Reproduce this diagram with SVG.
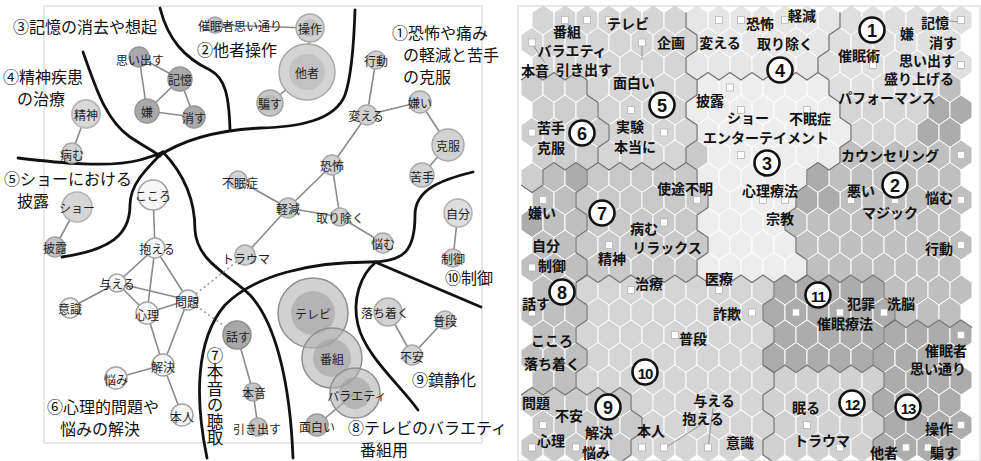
<svg xmlns="http://www.w3.org/2000/svg" xmlns:xlink="http://www.w3.org/1999/xlink" width="981" height="461" viewBox="0 0 981 461">
<style>
text{font-family:"Noto Sans CJK JP","Noto Sans CJK SC",sans-serif;fill:#111}
.nl{font-size:12px;text-anchor:middle;dominant-baseline:central;fill:#1e1e1e}
.rl{font-size:16px}
.vt{font-size:16.5px;writing-mode:vertical-rl}
.hl{font-size:14px;font-weight:bold;text-anchor:middle;dominant-baseline:central}
.num{font-family:"Liberation Sans",sans-serif;font-size:18px;font-weight:bold;text-anchor:middle;dominant-baseline:central}
.num2{font-family:"Liberation Sans",sans-serif;font-size:15px;font-weight:bold;text-anchor:middle;dominant-baseline:central;letter-spacing:-1px}
.cn{fill:#fff;stroke:#111;stroke-width:2.6}
.e{stroke:#8a8a8a;stroke-width:1.6;fill:none}
.dot{stroke:#999;stroke-width:1.6;stroke-dasharray:2 3;fill:none}
.sep{stroke:#111;stroke-width:2.8;fill:none;stroke-linecap:round}
.dk{fill:#a9a9a9;stroke:#959595;stroke-width:1.5}
.lt{fill:#d2d2d2;stroke:#a8a8a8;stroke-width:1.5}
.wh{fill:#f6f6f6;stroke:#a3a3a3;stroke-width:1.5}
.md{fill:#c4c4c4;stroke:#a0a0a0;stroke-width:1.5}
.big{fill:#b2b2b2;fill-opacity:.6;stroke:#8f8f8f;stroke-width:1.5}
.bin{fill:#9c9c9c;fill-opacity:.55}
.A{fill:#ededed}.H{fill:#e6e6e6}.B{fill:#dfdfdf}.C{fill:#d5d5d5}.P{fill:#cecece}.Q{fill:#d1d1d1}.D{fill:#c9c9c9}.E{fill:#bfbfbf}.F{fill:#acacac}
.sq{fill:#fff;stroke:#b5b5b5;stroke-width:.8}
.ld{stroke:#8a8a8a;stroke-width:.9}
.cb{fill:none;stroke:#707070;stroke-width:1.3;stroke-linejoin:round}
</style>
<defs>
<polygon id="h" points="0,-15 11,-7.5 11,7.5 0,15 -11,7.5 -11,-7.5" stroke="#fff" stroke-width="1"/>
<rect id="s" x="-3.5" y="-3.5" width="7" height="7"/>
</defs>
<rect width="981" height="461" fill="#fff"/>

<!-- LEFT PANEL -->
<rect x="44" y="6" width="438" height="437" fill="none" stroke="#cfcfcf" stroke-width="1"/>

<g id="separators">
<path class="sep" d="M160,8 C168,40 185,58 210,70 C225,78 229,95 230,130"/>
<path class="sep" d="M157,157 C185,138 220,130 260,128 C300,127 335,120 345,95 C352,75 354,40 355,10"/>
<path class="sep" d="M83,52 C95,85 105,120 130,137 C145,147 152,150 160,156"/>
<path class="sep" d="M18,158 C60,163 110,168 140,160 C150,157 157,155 163,152"/>
<path class="sep" d="M163,152 C145,170 130,185 130,205 C130,235 110,250 62,257"/>
<path class="sep" d="M163,152 C185,175 195,200 195,230 C197,262 230,275 250,295 C275,322 290,380 293,458"/>
<path class="sep" d="M207,458 C195,400 195,340 225,305 C255,275 310,262 370,262 C405,262 415,250 415,215 C415,190 440,180 473,172"/>
<path class="sep" d="M375,262 L481,307"/>
<path class="sep" d="M376,262 C360,275 352,300 358,325 C365,355 400,385 418,410"/>
</g>

<g id="connectors">
<line class="e" x1="139" y1="57" x2="180" y2="79"/>
<line class="e" x1="139" y1="57" x2="147" y2="111"/>
<line class="e" x1="180" y1="79" x2="147" y2="111"/>
<line class="e" x1="180" y1="79" x2="194" y2="117"/>
<line class="e" x1="147" y1="111" x2="194" y2="117"/>
<line class="e" x1="86" y1="114" x2="72" y2="153"/>
<line class="e" x1="215" y1="25" x2="310" y2="28"/>
<line class="e" x1="310" y1="28" x2="307" y2="72"/>
<line class="e" x1="307" y1="72" x2="270" y2="103"/>
<line class="e" x1="376" y1="60" x2="367" y2="115"/>
<line class="e" x1="367" y1="115" x2="420" y2="102"/>
<line class="e" x1="420" y1="102" x2="448" y2="145"/>
<line class="e" x1="448" y1="145" x2="422" y2="175"/>
<line class="e" x1="367" y1="115" x2="332" y2="165"/>
<line class="e" x1="332" y1="165" x2="288" y2="208"/>
<line class="e" x1="332" y1="165" x2="340" y2="217"/>
<line class="e" x1="288" y1="208" x2="340" y2="217"/>
<line class="e" x1="340" y1="217" x2="383" y2="243"/>
<line class="e" x1="288" y1="208" x2="238" y2="180"/>
<line class="e" x1="288" y1="208" x2="245" y2="255"/>
<line class="e" x1="77" y1="207" x2="55" y2="247"/>
<line class="e" x1="153" y1="195" x2="155" y2="248"/>
<line class="e" x1="155" y1="248" x2="117" y2="283"/>
<line class="e" x1="155" y1="248" x2="188" y2="300"/>
<line class="e" x1="155" y1="248" x2="147" y2="313"/>
<line class="e" x1="117" y1="283" x2="188" y2="300"/>
<line class="e" x1="117" y1="283" x2="70" y2="308"/>
<line class="e" x1="117" y1="283" x2="147" y2="313"/>
<line class="e" x1="147" y1="313" x2="188" y2="300"/>
<line class="e" x1="188" y1="300" x2="163" y2="365"/>
<line class="e" x1="147" y1="313" x2="163" y2="365"/>
<line class="e" x1="163" y1="365" x2="116" y2="378"/>
<line class="e" x1="163" y1="365" x2="182" y2="415"/>
<line class="dot" x1="188" y1="300" x2="245" y2="255"/>
<line class="dot" x1="188" y1="300" x2="237" y2="335"/>
<line class="e" x1="237" y1="335" x2="253" y2="392"/>
<line class="e" x1="253" y1="392" x2="258" y2="427"/>
<line class="e" x1="355" y1="393" x2="317" y2="425"/>
<line class="e" x1="388" y1="312" x2="412" y2="355"/>
<line class="e" x1="445" y1="320" x2="412" y2="355"/>
<line class="e" x1="458" y1="213" x2="453" y2="258"/>
</g>

<g id="n-omoidasu"><circle class="dk" cx="139" cy="57" r="10"/><text class="nl" x="140" y="59">思い出す</text></g>
<g id="n-kioku"><circle class="dk" cx="180" cy="79" r="12"/><text class="nl" x="180" y="79">記憶</text></g>
<g id="n-iya"><circle class="dk" cx="147" cy="111" r="12"/><text class="nl" x="147" y="111">嫌</text></g>
<g id="n-kesu"><circle class="dk" cx="194" cy="117" r="11"/><text class="nl" x="194" y="117">消す</text></g>
<g id="n-seishin"><circle cx="86" cy="114" r="14" fill="#d8d8d8" stroke="#b8b8b8" stroke-width="2"/><text class="nl" x="86" y="114">精神</text></g>
<g id="n-yamu"><circle class="lt" cx="72" cy="153" r="10"/><text class="nl" x="72" y="154">病む</text></g>
<g id="n-saiminsha"><circle class="md" cx="215" cy="25" r="8"/><text class="nl" x="240" y="25">催眠者思い通り</text></g>
<g id="n-sousa"><circle cx="310" cy="28" r="14" fill="#d3d3d3" stroke="#ababab" stroke-width="1.5"/><circle cx="310" cy="28" r="9" fill="#c0c0c0"/><text class="nl" x="310" y="28">操作</text></g>
<g id="n-tasha"><circle cx="307" cy="72" r="28" fill="#d4d4d4" stroke="#a8a8a8" stroke-width="1.5"/><circle cx="307" cy="72" r="18" fill="#c2c2c2"/><text class="nl" x="307" y="72">他者</text></g>
<g id="n-damasu"><circle cx="270" cy="103" r="13" fill="#c6c6c6" stroke="#a0a0a0" stroke-width="1.5"/><circle cx="270" cy="103" r="8" fill="#b8b8b8"/><text class="nl" x="270" y="103">騙す</text></g>
<g id="n-koudou"><circle class="lt" cx="376" cy="60" r="9"/><text class="nl" x="376" y="60">行動</text></g>
<g id="n-kaeru"><circle class="lt" cx="367" cy="115" r="10"/><text class="nl" x="366" y="115">変える</text></g>
<g id="n-kirai"><circle class="lt" cx="420" cy="102" r="11"/><text class="nl" x="420" y="102">嫌い</text></g>
<g id="n-kokufuku"><circle class="lt" cx="448" cy="145" r="16"/><text class="nl" x="448" y="145">克服</text></g>
<g id="n-nigate"><circle class="lt" cx="422" cy="175" r="12"/><text class="nl" x="422" y="176">苦手</text></g>
<g id="n-kyoufu"><circle class="lt" cx="332" cy="165" r="10"/><text class="nl" x="332" y="165">恐怖</text></g>
<g id="n-keigen"><circle class="lt" cx="288" cy="208" r="10"/><text class="nl" x="288" y="208">軽減</text></g>
<g id="n-torinozoku"><circle class="lt" cx="340" cy="217" r="9"/><text class="nl" x="340" y="217">取り除く</text></g>
<g id="n-nayamu"><circle class="lt" cx="383" cy="243" r="10"/><text class="nl" x="383" y="243">悩む</text></g>
<g id="n-fuminshou"><circle class="lt" cx="238" cy="180" r="9"/><text class="nl" x="240" y="182">不眠症</text></g>
<g id="n-trauma"><circle class="lt" cx="245" cy="255" r="10"/><text class="nl" x="246" y="258">トラウマ</text></g>
<g id="n-show"><circle cx="77" cy="207" r="15" fill="#d6d6d6" stroke="#b3b3b3" stroke-width="1.5"/><text class="nl" x="77" y="207">ショー</text></g>
<g id="n-hirou"><circle class="md" cx="55" cy="247" r="10"/><text class="nl" x="55" y="247">披露</text></g>
<g id="n-kokoro"><circle class="wh" cx="153" cy="195" r="15"/><text class="nl" x="153" y="195">こころ</text></g>
<g id="n-kakaeru"><circle class="wh" cx="155" cy="248" r="10"/><text class="nl" x="157" y="248">抱える</text></g>
<g id="n-ataeru"><circle class="wh" cx="117" cy="283" r="9"/><text class="nl" x="117" y="283">与える</text></g>
<g id="n-mondai"><circle class="wh" cx="188" cy="300" r="10"/><text class="nl" x="187" y="301">問題</text></g>
<g id="n-ishiki"><circle class="wh" cx="70" cy="308" r="10"/><text class="nl" x="70" y="308">意識</text></g>
<g id="n-shinri"><circle class="wh" cx="147" cy="313" r="11"/><text class="nl" x="147" y="314">心理</text></g>
<g id="n-kaiketsu"><circle class="wh" cx="163" cy="365" r="11"/><text class="nl" x="163" y="366">解決</text></g>
<g id="n-nayami"><circle class="wh" cx="116" cy="378" r="11"/><text class="nl" x="116" y="379">悩み</text></g>
<g id="n-honnin"><circle class="wh" cx="182" cy="415" r="11"/><text class="nl" x="182" y="416">本人</text></g>
<g id="n-hanasu"><circle cx="237" cy="335" r="14" fill="#a8a8a8" stroke="#8e8e8e" stroke-width="1.5"/><text class="nl" x="238" y="336">話す</text></g>
<g id="n-honne"><circle class="md" cx="253" cy="392" r="9"/><text class="nl" x="254" y="392">本音</text></g>
<g id="n-hikidasu"><circle class="md" cx="258" cy="427" r="9"/><text class="nl" x="257" y="428">引き出す</text></g>
<g id="n-tv"><circle class="big" cx="313" cy="313" r="35"/><circle class="bin" cx="313" cy="313" r="22"/><text class="nl" x="313" y="313">テレビ</text></g>
<g id="n-bangumi"><circle class="big" cx="332" cy="358" r="30"/><circle class="bin" cx="332" cy="358" r="19"/><text class="nl" x="332" y="358">番組</text></g>
<g id="n-variety"><circle class="big" cx="355" cy="393" r="25"/><circle class="bin" cx="355" cy="393" r="16"/><text class="nl" x="357" y="395">バラエティ</text></g>
<g id="n-omoshiroi"><circle cx="317" cy="425" r="11" fill="#b8b8b8" stroke="#9a9a9a" stroke-width="1.5"/><text class="nl" x="317" y="426">面白い</text></g>
<g id="n-ochitsuku"><circle class="lt" cx="388" cy="312" r="14"/><text class="nl" x="385" y="312">落ち着く</text></g>
<g id="n-fudan"><circle class="lt" cx="445" cy="320" r="9"/><text class="nl" x="445" y="320">普段</text></g>
<g id="n-fuan"><circle class="lt" cx="412" cy="355" r="10"/><text class="nl" x="412" y="356">不安</text></g>
<g id="n-jibun"><circle cx="458" cy="213" r="14" fill="#dedede" stroke="#b0b0b0" stroke-width="1.5"/><text class="nl" x="458" y="213">自分</text></g>
<g id="n-seigyo"><circle class="lt" cx="453" cy="258" r="9"/><text class="nl" x="453" y="258">制御</text></g>

<g id="region-labels">
<text class="rl" x="13" y="33">③記憶の消去や想起</text>
<text class="rl" x="197" y="56">②他者操作</text>
<text class="rl" x="3" y="83">④精神疾患</text>
<text class="rl" x="17" y="105">の治療</text>
<text class="rl" x="392" y="39">①恐怖や痛み</text>
<text class="rl" x="403" y="61">の軽減と苦手</text>
<text class="rl" x="403" y="83">の克服</text>
<text class="rl" x="4" y="185">⑤ショーにおける</text>
<text class="rl" x="17" y="207">披露</text>
<text class="rl" x="47" y="413">⑥心理的問題や</text>
<text class="rl" x="60" y="435">悩みの解決</text>
<text class="vt" x="215" y="347">⑦本音の聴取</text>
<text class="rl" x="348" y="434">⑧テレビのバラエティ</text>
<text class="rl" x="360" y="456">番組用</text>
<text class="rl" x="412" y="386">⑨鎮静化</text>
<text class="rl" x="445" y="284">⑩制御</text>
</g>

<!-- RIGHT PANEL -->
<g id="hexgrid">
<g transform="translate(0,20)"><g class="C"><use href="#h" x="543"/><use href="#h" x="565"/><use href="#h" x="587"/><use href="#h" x="609"/><use href="#h" x="631"/><use href="#h" x="653"/><use href="#h" x="675"/></g><g class="H"><use href="#h" x="697"/><use href="#h" x="719"/><use href="#h" x="741"/><use href="#h" x="763"/><use href="#h" x="785"/><use href="#h" x="807"/><use href="#h" x="829"/></g><g class="B"><use href="#h" x="851"/><use href="#h" x="873"/><use href="#h" x="895"/><use href="#h" x="917"/><use href="#h" x="939"/><use href="#h" x="961"/></g></g>
<g transform="translate(0,42.5)"><g class="C"><use href="#h" x="532"/><use href="#h" x="554"/><use href="#h" x="576"/><use href="#h" x="598"/><use href="#h" x="620"/><use href="#h" x="642"/><use href="#h" x="664"/><use href="#h" x="686"/></g><g class="H"><use href="#h" x="708"/><use href="#h" x="730"/><use href="#h" x="752"/><use href="#h" x="774"/><use href="#h" x="796"/><use href="#h" x="818"/></g><g class="B"><use href="#h" x="840"/><use href="#h" x="862"/><use href="#h" x="884"/><use href="#h" x="906"/><use href="#h" x="928"/><use href="#h" x="950"/></g></g>
<g transform="translate(0,65)"><g class="C"><use href="#h" x="543"/><use href="#h" x="565"/><use href="#h" x="587"/><use href="#h" x="609"/><use href="#h" x="631"/><use href="#h" x="653"/><use href="#h" x="675"/></g><g class="H"><use href="#h" x="697"/><use href="#h" x="719"/><use href="#h" x="741"/><use href="#h" x="763"/><use href="#h" x="785"/><use href="#h" x="807"/></g><g class="B"><use href="#h" x="829"/><use href="#h" x="851"/><use href="#h" x="873"/><use href="#h" x="895"/><use href="#h" x="917"/><use href="#h" x="939"/><use href="#h" x="961"/></g></g>
<g transform="translate(0,87.5)"><g class="P"><use href="#h" x="532"/><use href="#h" x="554"/><use href="#h" x="576"/></g><g class="C"><use href="#h" x="598"/><use href="#h" x="620"/><use href="#h" x="642"/><use href="#h" x="664"/><use href="#h" x="686"/></g><g class="A"><use href="#h" x="708"/><use href="#h" x="730"/><use href="#h" x="752"/><use href="#h" x="774"/><use href="#h" x="796"/><use href="#h" x="818"/></g><g class="B"><use href="#h" x="840"/><use href="#h" x="862"/><use href="#h" x="884"/><use href="#h" x="906"/><use href="#h" x="928"/></g><g class="E"><use href="#h" x="950"/></g></g>
<g transform="translate(0,110)"><g class="P"><use href="#h" x="543"/><use href="#h" x="565"/><use href="#h" x="587"/></g><g class="C"><use href="#h" x="609"/><use href="#h" x="631"/><use href="#h" x="653"/><use href="#h" x="675"/><use href="#h" x="851"/><use href="#h" x="873"/><use href="#h" x="895"/><use href="#h" x="917"/></g><g class="A"><use href="#h" x="697"/><use href="#h" x="719"/><use href="#h" x="741"/><use href="#h" x="763"/><use href="#h" x="785"/><use href="#h" x="807"/><use href="#h" x="829"/></g><g class="F"><use href="#h" x="939"/><use href="#h" x="961"/></g></g>
<g transform="translate(0,132.5)"><g class="P"><use href="#h" x="532"/><use href="#h" x="554"/><use href="#h" x="576"/><use href="#h" x="598"/></g><g class="C"><use href="#h" x="620"/><use href="#h" x="642"/><use href="#h" x="664"/><use href="#h" x="686"/><use href="#h" x="862"/><use href="#h" x="884"/><use href="#h" x="906"/></g><g class="A"><use href="#h" x="708"/><use href="#h" x="730"/><use href="#h" x="752"/><use href="#h" x="774"/><use href="#h" x="796"/><use href="#h" x="818"/><use href="#h" x="840"/></g><g class="F"><use href="#h" x="928"/><use href="#h" x="950"/></g></g>
<g transform="translate(0,155)"><g class="P"><use href="#h" x="543"/><use href="#h" x="565"/><use href="#h" x="587"/></g><g class="C"><use href="#h" x="609"/><use href="#h" x="631"/><use href="#h" x="653"/><use href="#h" x="675"/></g><g class="D"><use href="#h" x="697"/></g><g class="A"><use href="#h" x="719"/><use href="#h" x="741"/><use href="#h" x="763"/><use href="#h" x="785"/><use href="#h" x="807"/><use href="#h" x="829"/></g><g class="E"><use href="#h" x="851"/><use href="#h" x="873"/><use href="#h" x="895"/><use href="#h" x="917"/><use href="#h" x="939"/><use href="#h" x="961"/></g></g>
<g transform="translate(0,177.5)"><g class="P"><use href="#h" x="532"/></g><g class="E"><use href="#h" x="554"/><use href="#h" x="840"/><use href="#h" x="862"/><use href="#h" x="884"/><use href="#h" x="906"/><use href="#h" x="928"/><use href="#h" x="950"/></g><g class="F"><use href="#h" x="576"/><use href="#h" x="818"/></g><g class="D"><use href="#h" x="598"/><use href="#h" x="620"/><use href="#h" x="642"/><use href="#h" x="664"/><use href="#h" x="686"/></g><g class="A"><use href="#h" x="708"/><use href="#h" x="730"/><use href="#h" x="752"/><use href="#h" x="774"/><use href="#h" x="796"/></g></g>
<g transform="translate(0,200)"><g class="E"><use href="#h" x="543"/><use href="#h" x="565"/><use href="#h" x="851"/><use href="#h" x="873"/><use href="#h" x="895"/><use href="#h" x="917"/><use href="#h" x="939"/><use href="#h" x="961"/></g><g class="D"><use href="#h" x="587"/><use href="#h" x="609"/><use href="#h" x="631"/><use href="#h" x="653"/><use href="#h" x="675"/><use href="#h" x="697"/></g><g class="A"><use href="#h" x="719"/><use href="#h" x="741"/><use href="#h" x="763"/><use href="#h" x="785"/></g><g class="F"><use href="#h" x="807"/><use href="#h" x="829"/></g></g>
<g transform="translate(0,222.5)"><g class="F"><use href="#h" x="532"/></g><g class="E"><use href="#h" x="554"/><use href="#h" x="576"/><use href="#h" x="796"/><use href="#h" x="818"/><use href="#h" x="840"/><use href="#h" x="862"/><use href="#h" x="884"/><use href="#h" x="906"/><use href="#h" x="928"/><use href="#h" x="950"/></g><g class="D"><use href="#h" x="598"/><use href="#h" x="620"/><use href="#h" x="642"/><use href="#h" x="664"/><use href="#h" x="686"/></g><g class="A"><use href="#h" x="708"/><use href="#h" x="730"/><use href="#h" x="752"/><use href="#h" x="774"/></g></g>
<g transform="translate(0,245)"><g class="E"><use href="#h" x="543"/><use href="#h" x="565"/><use href="#h" x="807"/><use href="#h" x="829"/><use href="#h" x="851"/><use href="#h" x="873"/><use href="#h" x="895"/><use href="#h" x="917"/><use href="#h" x="939"/><use href="#h" x="961"/></g><g class="D"><use href="#h" x="587"/><use href="#h" x="609"/><use href="#h" x="631"/><use href="#h" x="653"/><use href="#h" x="675"/><use href="#h" x="697"/></g><g class="A"><use href="#h" x="719"/><use href="#h" x="741"/><use href="#h" x="763"/><use href="#h" x="785"/></g></g>
<g transform="translate(0,267.5)"><g class="E"><use href="#h" x="532"/><use href="#h" x="554"/><use href="#h" x="576"/><use href="#h" x="818"/><use href="#h" x="840"/><use href="#h" x="862"/><use href="#h" x="884"/><use href="#h" x="906"/><use href="#h" x="928"/><use href="#h" x="950"/></g><g class="D"><use href="#h" x="598"/><use href="#h" x="620"/><use href="#h" x="642"/><use href="#h" x="664"/><use href="#h" x="686"/></g><g class="A"><use href="#h" x="708"/><use href="#h" x="730"/><use href="#h" x="752"/><use href="#h" x="774"/><use href="#h" x="796"/></g></g>
<g transform="translate(0,290)"><g class="E"><use href="#h" x="543"/><use href="#h" x="565"/><use href="#h" x="895"/><use href="#h" x="917"/><use href="#h" x="939"/><use href="#h" x="961"/></g><g class="C"><use href="#h" x="587"/><use href="#h" x="609"/><use href="#h" x="631"/><use href="#h" x="653"/><use href="#h" x="675"/><use href="#h" x="697"/><use href="#h" x="719"/><use href="#h" x="741"/><use href="#h" x="763"/></g><g class="F"><use href="#h" x="785"/><use href="#h" x="807"/><use href="#h" x="829"/><use href="#h" x="851"/><use href="#h" x="873"/></g></g>
<g transform="translate(0,312.5)"><g class="E"><use href="#h" x="532"/><use href="#h" x="554"/><use href="#h" x="576"/><use href="#h" x="906"/><use href="#h" x="928"/><use href="#h" x="950"/></g><g class="C"><use href="#h" x="598"/><use href="#h" x="620"/><use href="#h" x="642"/><use href="#h" x="664"/><use href="#h" x="686"/><use href="#h" x="708"/><use href="#h" x="730"/><use href="#h" x="752"/></g><g class="F"><use href="#h" x="774"/><use href="#h" x="796"/><use href="#h" x="818"/><use href="#h" x="840"/><use href="#h" x="862"/><use href="#h" x="884"/></g></g>
<g transform="translate(0,335)"><g class="E"><use href="#h" x="543"/><use href="#h" x="565"/></g><g class="C"><use href="#h" x="587"/><use href="#h" x="609"/><use href="#h" x="631"/><use href="#h" x="653"/><use href="#h" x="675"/><use href="#h" x="697"/><use href="#h" x="719"/><use href="#h" x="741"/><use href="#h" x="763"/></g><g class="F"><use href="#h" x="785"/><use href="#h" x="807"/><use href="#h" x="829"/><use href="#h" x="851"/><use href="#h" x="873"/><use href="#h" x="895"/><use href="#h" x="917"/><use href="#h" x="939"/><use href="#h" x="961"/></g></g>
<g transform="translate(0,357.5)"><g class="E"><use href="#h" x="532"/><use href="#h" x="554"/><use href="#h" x="576"/></g><g class="C"><use href="#h" x="598"/><use href="#h" x="620"/><use href="#h" x="642"/><use href="#h" x="664"/><use href="#h" x="686"/><use href="#h" x="708"/><use href="#h" x="730"/><use href="#h" x="752"/></g><g class="F"><use href="#h" x="774"/><use href="#h" x="796"/><use href="#h" x="818"/><use href="#h" x="840"/><use href="#h" x="862"/><use href="#h" x="884"/><use href="#h" x="906"/><use href="#h" x="928"/><use href="#h" x="950"/></g></g>
<g transform="translate(0,380)"><g class="E"><use href="#h" x="543"/><use href="#h" x="565"/></g><g class="C"><use href="#h" x="587"/><use href="#h" x="609"/><use href="#h" x="631"/><use href="#h" x="653"/><use href="#h" x="675"/><use href="#h" x="697"/><use href="#h" x="719"/><use href="#h" x="741"/><use href="#h" x="763"/></g><g class="Q"><use href="#h" x="785"/><use href="#h" x="807"/><use href="#h" x="829"/><use href="#h" x="851"/><use href="#h" x="873"/></g><g class="F"><use href="#h" x="895"/><use href="#h" x="917"/><use href="#h" x="939"/><use href="#h" x="961"/></g></g>
<g transform="translate(0,402.5)"><g class="D"><use href="#h" x="532"/><use href="#h" x="554"/><use href="#h" x="576"/><use href="#h" x="598"/><use href="#h" x="620"/></g><g class="C"><use href="#h" x="642"/><use href="#h" x="664"/><use href="#h" x="686"/><use href="#h" x="708"/><use href="#h" x="730"/><use href="#h" x="752"/></g><g class="Q"><use href="#h" x="774"/><use href="#h" x="796"/><use href="#h" x="818"/><use href="#h" x="840"/><use href="#h" x="862"/></g><g class="F"><use href="#h" x="884"/><use href="#h" x="906"/><use href="#h" x="928"/><use href="#h" x="950"/></g></g>
<g transform="translate(0,425)"><g class="D"><use href="#h" x="543"/><use href="#h" x="565"/><use href="#h" x="587"/><use href="#h" x="609"/><use href="#h" x="631"/></g><g class="C"><use href="#h" x="653"/><use href="#h" x="675"/><use href="#h" x="697"/><use href="#h" x="719"/><use href="#h" x="741"/><use href="#h" x="763"/></g><g class="Q"><use href="#h" x="785"/><use href="#h" x="807"/><use href="#h" x="829"/><use href="#h" x="851"/><use href="#h" x="873"/></g><g class="F"><use href="#h" x="895"/><use href="#h" x="917"/><use href="#h" x="939"/><use href="#h" x="961"/></g></g>
<g transform="translate(0,447.5)"><g class="D"><use href="#h" x="532"/><use href="#h" x="554"/><use href="#h" x="576"/><use href="#h" x="598"/><use href="#h" x="620"/></g><g class="C"><use href="#h" x="642"/><use href="#h" x="664"/><use href="#h" x="686"/><use href="#h" x="708"/><use href="#h" x="730"/><use href="#h" x="752"/></g><g class="Q"><use href="#h" x="774"/><use href="#h" x="796"/><use href="#h" x="818"/><use href="#h" x="840"/><use href="#h" x="862"/></g><g class="F"><use href="#h" x="884"/><use href="#h" x="906"/><use href="#h" x="928"/><use href="#h" x="950"/></g></g>
</g>

<g id="cluster-borders" class="cb">
<polyline points="521,185 532,192.5 543,185 543,170 554,162.5 565,170 576,162.5 587,170 598,162.5 598,147.5 609,140 609,125 598,117.5 598,102.5 587,95 587,80 576,72.5 565,80 554,72.5 543,80 532,72.5 521,80"/>
<polyline points="686,12.5 686,27.5 697,35 697,50 686,57.5 686,72.5 697,80 697,95 686,102.5 686,117.5 697,125 697,140 686,147.5 686,162.5 697,170 697,185 708,192.5 708,207.5 697,215 697,230 708,237.5 708,252.5 697,260 697,275"/>
<polyline points="697,80 708,72.5 719,80 730,72.5 741,80 752,72.5 763,80 774,72.5 785,80 796,72.5 807,80 818,72.5"/>
<polyline points="840,12.5 840,27.5 829,35 829,50 818,57.5 818,72.5 829,80 829,95 840,102.5 840,117.5 851,125 851,140 840,147.5 840,162.5 829,170 818,162.5 807,170 807,185 796,192.5 796,207.5 785,215 785,230 796,237.5 796,252.5 807,260 807,275 796,282.5"/>
<polyline points="598,162.5 609,170 620,162.5 631,170 642,162.5 653,170 664,162.5 675,170 686,162.5"/>
<polyline points="587,170 587,185 576,192.5 576,207.5 587,215 587,230 576,237.5 576,252.5 587,260 587,275 576,282.5 576,297.5 587,305 587,320 576,327.5 576,342.5 587,350 587,365 576,372.5 576,387.5"/>
<polyline points="576,282.5 587,275 598,282.5 609,275 620,282.5 631,275 642,282.5 653,275 664,282.5 675,275 686,282.5 697,275 708,282.5 719,275 730,282.5 741,275 752,282.5 763,275 774,282.5"/>
<polygon points="774,282.5 785,275 796,282.5 807,275 818,282.5 829,275 840,282.5 851,275 862,282.5 873,275 884,282.5 884,297.5 895,305 895,320 884,327.5 884,342.5 873,350 873,365 862,372.5 851,365 840,372.5 829,365 818,372.5 807,365 796,372.5 785,365 774,372.5 763,365 763,350 774,342.5 774,327.5 763,320 763,305 774,297.5"/>
<polyline points="763,365 774,372.5 774,387.5 763,395 763,410 774,417.5 774,432.5 763,440 763,455 774,462.5"/>
<polyline points="873,365 884,372.5 884,387.5 873,395 873,410 884,417.5 884,432.5 873,440 873,455 884,462.5"/>
<polyline points="884,327.5 895,320 906,327.5 917,320 928,327.5 939,320 950,327.5 961,320 972,327.5"/>
<polyline points="521,395 532,387.5 543,395 554,387.5 565,395 576,387.5 587,395 598,387.5 609,395 620,387.5 631,395 631,410 642,417.5 642,432.5 631,440 631,455 620,462.5"/>
</g>
<rect x="518" y="6" width="462" height="455" fill="none" stroke="#cfcfcf" stroke-width="1"/>

<g id="leaders">
<line class="ld" x1="533" y1="45" x2="545" y2="63"/>
<line class="ld" x1="567" y1="22" x2="574" y2="40"/>
<line class="ld" x1="642" y1="45" x2="642" y2="60"/>
<line class="ld" x1="949" y1="21" x2="958" y2="22"/>
<line class="ld" x1="665" y1="448" x2="702" y2="424"/>
<line class="ld" x1="708" y1="448" x2="713" y2="408"/>
</g>

<g id="squares" class="sq">
<use href="#s" x="565" y="20"/><use href="#s" x="587" y="20"/><use href="#s" x="609" y="20"/><use href="#s" x="719" y="20"/><use href="#s" x="741" y="20"/><use href="#s" x="785" y="20"/><use href="#s" x="961" y="20"/>
<use href="#s" x="532" y="42.5"/><use href="#s" x="642" y="42.5"/>
<use href="#s" x="873" y="65"/><use href="#s" x="961" y="65"/>
<use href="#s" x="730" y="87.5"/>
<use href="#s" x="631" y="110"/><use href="#s" x="741" y="110"/><use href="#s" x="807" y="110"/>
<use href="#s" x="532" y="132.5"/><use href="#s" x="664" y="132.5"/>
<use href="#s" x="741" y="155"/><use href="#s" x="961" y="155"/>
<use href="#s" x="543" y="200"/><use href="#s" x="697" y="200"/><use href="#s" x="763" y="200"/><use href="#s" x="785" y="200"/><use href="#s" x="851" y="200"/><use href="#s" x="895" y="200"/><use href="#s" x="961" y="200"/>
<use href="#s" x="664" y="222.5"/>
<use href="#s" x="609" y="245"/><use href="#s" x="961" y="245"/>
<use href="#s" x="532" y="267.5"/>
<use href="#s" x="631" y="290"/><use href="#s" x="719" y="290"/>
<use href="#s" x="532" y="312.5"/><use href="#s" x="752" y="312.5"/><use href="#s" x="796" y="312.5"/><use href="#s" x="840" y="312.5"/><use href="#s" x="884" y="312.5"/>
<use href="#s" x="675" y="335"/><use href="#s" x="961" y="335"/>
<use href="#s" x="543" y="425"/><use href="#s" x="807" y="425"/><use href="#s" x="961" y="425"/>
<use href="#s" x="532" y="447.5"/><use href="#s" x="576" y="447.5"/><use href="#s" x="598" y="447.5"/><use href="#s" x="642" y="447.5"/><use href="#s" x="664" y="447.5"/><use href="#s" x="708" y="447.5"/><use href="#s" x="840" y="447.5"/><use href="#s" x="906" y="447.5"/><use href="#s" x="928" y="447.5"/>
</g>

<g id="map-labels">
<text class="hl" x="567" y="31">番組</text>
<text class="hl" x="628" y="23">テレビ</text>
<text class="hl" x="572" y="50">バラエティ</text>
<text class="hl" x="671" y="42">企画</text>
<text class="hl" x="535" y="70">本音</text>
<text class="hl" x="584" y="69">引き出す</text>
<text class="hl" x="720" y="42">変える</text>
<text class="hl" x="634" y="82">面白い</text>
<text class="hl" x="710" y="100">披露</text>
<text class="hl" x="551" y="127">苦手</text>
<text class="hl" x="551" y="147">克服</text>
<text class="hl" x="630" y="126">実験</text>
<text class="hl" x="635" y="146">本当に</text>
<text class="hl" x="748" y="117">ショー</text>
<text class="hl" x="766" y="137">エンターテイメント</text>
<text class="hl" x="760" y="23">恐怖</text>
<text class="hl" x="802" y="15">軽減</text>
<text class="hl" x="785" y="43">取り除く</text>
<text class="hl" x="907" y="33">嫌</text>
<text class="hl" x="935" y="22">記憶</text>
<text class="hl" x="943" y="42">消す</text>
<text class="hl" x="859" y="55">催眠術</text>
<text class="hl" x="927" y="60">思い出す</text>
<text class="hl" x="919" y="78">盛り上げる</text>
<text class="hl" x="887" y="97">パフォーマンス</text>
<text class="hl" x="810" y="118">不眠症</text>
<text class="hl" x="890" y="155">カウンセリング</text>
<text class="hl" x="685" y="188">使途不明</text>
<text class="hl" x="770" y="190">心理療法</text>
<text class="hl" x="780" y="218">宗教</text>
<text class="hl" x="861" y="190">悪い</text>
<text class="hl" x="890" y="212">マジック</text>
<text class="hl" x="939" y="197">悩む</text>
<text class="hl" x="939" y="248">行動</text>
<text class="hl" x="542" y="212">嫌い</text>
<text class="hl" x="644" y="228">病む</text>
<text class="hl" x="667" y="247">リラックス</text>
<text class="hl" x="546" y="245">自分</text>
<text class="hl" x="612" y="258">精神</text>
<text class="hl" x="552" y="265">制御</text>
<text class="hl" x="649" y="283">治療</text>
<text class="hl" x="719" y="278">医療</text>
<text class="hl" x="536" y="303">話す</text>
<text class="hl" x="861" y="303">犯罪</text>
<text class="hl" x="901" y="303">洗脳</text>
<text class="hl" x="727" y="313">詐欺</text>
<text class="hl" x="845" y="323">催眠療法</text>
<text class="hl" x="552" y="340">こころ</text>
<text class="hl" x="693" y="338">普段</text>
<text class="hl" x="946" y="350">催眠者</text>
<text class="hl" x="938" y="368">思い通り</text>
<text class="hl" x="552" y="363">落ち着く</text>
<text class="hl" x="536" y="402">問題</text>
<text class="hl" x="569" y="415">不安</text>
<text class="hl" x="599" y="432">解決</text>
<text class="hl" x="651" y="430">本人</text>
<text class="hl" x="714" y="400">与える</text>
<text class="hl" x="703" y="418">抱える</text>
<text class="hl" x="740" y="442">意識</text>
<text class="hl" x="551" y="440">心理</text>
<text class="hl" x="596" y="452">悩み</text>
<text class="hl" x="806" y="407">眠る</text>
<text class="hl" x="939" y="428">操作</text>
<text class="hl" x="822" y="440">トラウマ</text>
<text class="hl" x="884" y="452">他者</text>
<text class="hl" x="944" y="452">騙す</text>
</g>

<g id="cluster-numbers">
<g><circle class="cn" cx="872" cy="30" r="12.5"/><text class="num" x="872" y="31">1</text></g>
<g><circle class="cn" cx="895" cy="185" r="12.5"/><text class="num" x="895" y="186">2</text></g>
<g><circle class="cn" cx="767" cy="163" r="12.5"/><text class="num" x="767" y="164">3</text></g>
<g><circle class="cn" cx="780" cy="70" r="12.5"/><text class="num" x="780" y="71">4</text></g>
<g><circle class="cn" cx="662" cy="105" r="12.5"/><text class="num" x="662" y="106">5</text></g>
<g><circle class="cn" cx="582" cy="133" r="12.5"/><text class="num" x="582" y="134">6</text></g>
<g><circle class="cn" cx="602" cy="213" r="12.5"/><text class="num" x="602" y="214">7</text></g>
<g><circle class="cn" cx="562" cy="292" r="12.5"/><text class="num" x="562" y="293">8</text></g>
<g><circle class="cn" cx="608" cy="407" r="12.5"/><text class="num" x="608" y="408">9</text></g>
<g><circle class="cn" cx="645" cy="372" r="12.5"/><text class="num2" x="645" y="373">10</text></g>
<g><circle class="cn" cx="818" cy="295" r="12.5"/><text class="num2" x="818" y="296">11</text></g>
<g><circle class="cn" cx="852" cy="403" r="12.5"/><text class="num2" x="852" y="404">12</text></g>
<g><circle class="cn" cx="908" cy="407" r="12.5"/><text class="num2" x="908" y="408">13</text></g>
</g>
</svg>
